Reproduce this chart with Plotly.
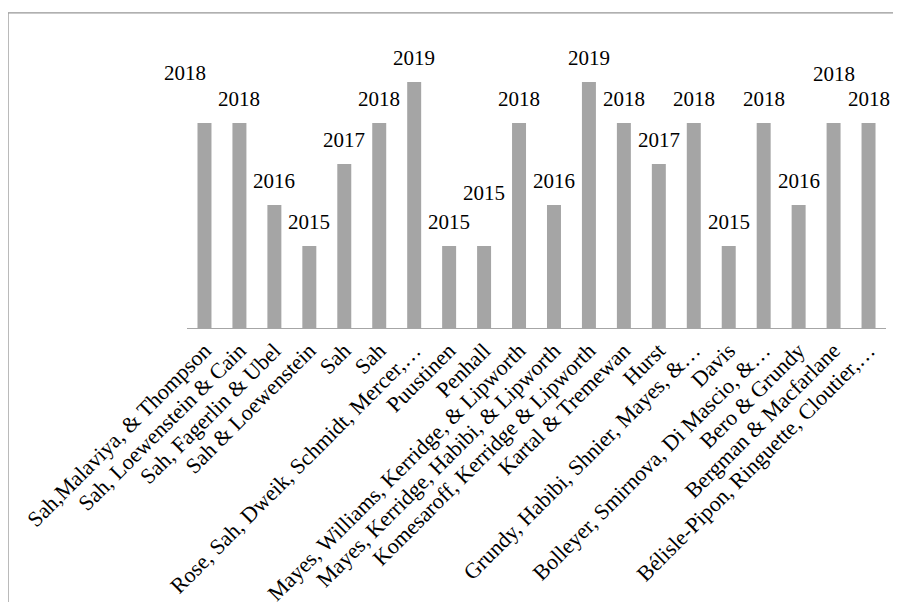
import plotly.graph_objects as go

# ---- data ----
authors = [
    "Sah,Malaviya, & Thompson",
    "Sah, Loewenstein & Cain",
    "Sah, Fagerlin & Ubel",
    "Sah & Loewenstein",
    "Sah",
    "Sah",
    "Rose, Sah, Dweik, Schmidt, Mercer,…",
    "Puustinen",
    "Penhall",
    "Mayes, Williams, Kerridge, & Lipworth",
    "Mayes, Kerridge, Habibi, & Lipworth",
    "Komesaroff, Kerridge & Lipworth",
    "Kartal & Tremewan",
    "Hurst",
    "Grundy, Habibi, Shnier, Mayes, &…",
    "Davis",
    "Bolleyer, Smirnova, Di Mascio, &…",
    "Bero & Grundy",
    "Bergman & Macfarlane",
    "Bélisle-Pipon, Ringuette, Cloutier,…",
]
years = [2018, 2018, 2016, 2015, 2017, 2018, 2019, 2015, 2015, 2018,
         2016, 2019, 2018, 2017, 2018, 2015, 2018, 2016, 2018, 2018]

# ---- style ----
FONT = "Liberation Serif, Times New Roman, serif"
BAR_COLOR = "#a5a5a5"
LABEL_SHIFT = 10           # default gap of data label above bar
LABEL_NUDGE = {0: (-19, 26), 8: (0, 29), 18: (0, 25)}  # (dx, dy) px

positions = list(range(len(authors)))

fig = go.Figure()
fig.add_trace(go.Bar(
    x=positions, y=years, width=0.4,
    marker=dict(color=BAR_COLOR, line=dict(width=0)),
    hoverinfo="skip",
))

annotations = []
for i, (xv, yv) in enumerate(zip(positions, years)):
    dx, dy = LABEL_NUDGE.get(i, (0, 0))
    annotations.append(dict(
        x=xv, y=yv, xref="x", yref="y", text=str(yv), showarrow=False,
        xanchor="center", yanchor="bottom",
        xshift=dx, yshift=LABEL_SHIFT + dy,
        font=dict(family=FONT, size=21, color="black"),
    ))

BORDER = dict(color="#969696", width=1.2)
fig.update_layout(
    width=885, height=594,
    margin=dict(l=179, r=7, t=33, b=274, autoexpand=False),
    font=dict(family=FONT, size=21, color="black"),
    paper_bgcolor="white", plot_bgcolor="white",
    showlegend=False,
    annotations=annotations,
    shapes=[
        dict(type="line", xref="paper", yref="paper",
             x0=-0.256, x1=1.2, y0=1.098, y1=1.098, line=BORDER, layer="below"),
        dict(type="line", xref="paper", yref="paper",
             x0=-0.256, x1=-0.256, y0=-1.2, y1=1.098, line=BORDER, layer="below"),
    ],
    xaxis=dict(
        range=[-0.5, len(authors) - 0.5], automargin=False,
        tickmode="array", tickvals=positions, ticktext=authors,
        tickangle=-45, ticks="", showgrid=False, zeroline=False,
        showline=True, linecolor="#a6a6a6", linewidth=1,
        tickfont=dict(family=FONT, size=22, color="black"),
    ),
    yaxis=dict(
        range=[2013, 2020], showticklabels=False, showgrid=False, automargin=False,
        zeroline=False, showline=False, ticks="",
    ),
)

fig.write_html("out.html")
